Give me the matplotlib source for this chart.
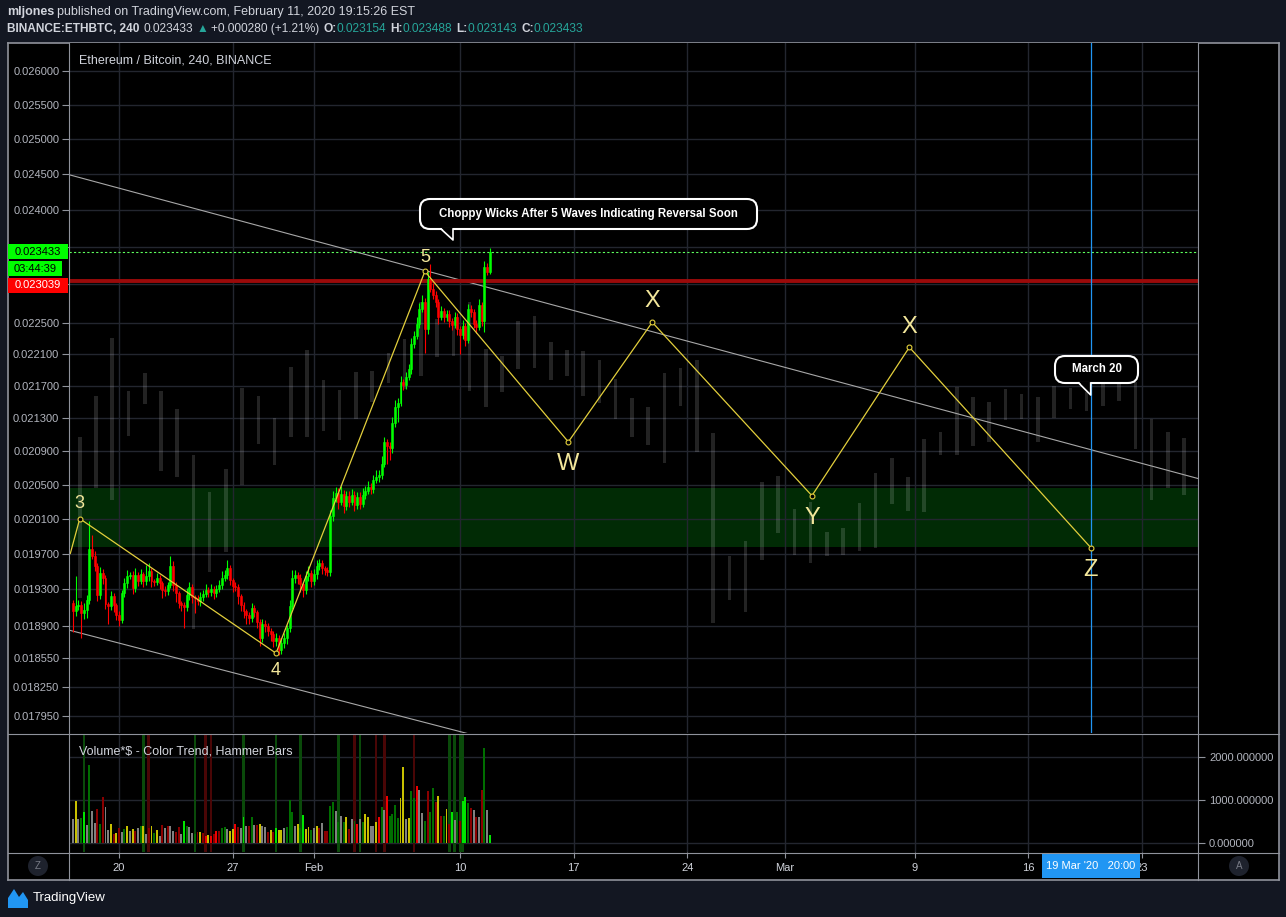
import numpy as np
import pandas as pd
import matplotlib
matplotlib.use("Agg")
import matplotlib.pyplot as plt
import matplotlib.dates as mdates
from matplotlib.patches import Rectangle, FancyBboxPatch, Polygon, Circle
from matplotlib.lines import Line2D
from matplotlib.transforms import IdentityTransform
from matplotlib.ticker import FixedLocator, FixedFormatter, NullLocator

plt.rcParams['font.family'] = ['Liberation Sans', 'DejaVu Sans']

# ETH/BTC 4h candles, prices in 1e-6 BTC (open = previous close)
first_open = 19147
closes = [19059, 19114, 19125, 19038, 19070, 19180, 19760, 19670, 19557, 19235,
          19479, 19423, 19136, 19114, 19224, 19125, 19016, 18961, 19257, 19368,
          19445, 19457, 19312, 19457, 19390, 19468, 19390, 19445, 19501, 19390,
          19379, 19423, 19368, 19290, 19279, 19345, 19557, 19345, 19257, 19147,
          19125, 19103, 19235, 19323, 19213, 19202, 19169, 19213, 19246, 19290,
          19268, 19301, 19257, 19301, 19345, 19423, 19457, 19535, 19401, 19334,
          19323, 19224, 19125, 19059, 19016, 18983, 19092,
          19048, 18940, 18767, 18918, 18897, 18843, 18810, 18735, 18767, 18639,
          18714, 18767, 18875, 19114, 19423, 19457, 19423, 19357, 19290, 19445,
          19479, 19390, 19468, 19557, 19591, 19535, 19513, 19490,
          20137, 20346, 20404, 20299, 20392, 20253, 20369, 20299, 20381, 20264,
          20357, 20276, 20381, 20428, 20474, 20451, 20556, 20591, 20615, 20745,
          21009, 20961, 20937, 21239, 21435, 21484, 21743, 21706, 21806, 21906,
          22221, 22324, 22478, 22672, 22763, 22414, 23065,
          22933, 22854, 22763, 22568, 22646, 22568, 22607, 22516, 22465, 22568,
          22414, 22337, 22452, 22273, 22672, 22633, 22478, 22440, 22724, 22516,
          23225, 23158, 23433]
upper_wick = [40, 340, 60, 50, 80, 60, 320, 150, 60, 40, 70, 50, 40, 30, 60, 40, 30, 50, 40, 60,
              70, 40, 50, 80, 40, 60, 30, 130, 90, 40, 30, 60, 40, 30, 50, 40, 120, 60, 40, 30,
              30, 40, 80, 60, 40, 30, 40, 60, 50, 70, 40, 60, 40, 50, 60, 80, 60, 100, 40, 30,
              50, 40, 30, 40, 30, 40, 60,
              40, 30, 40, 60, 50, 40, 30, 40, 60, 40, 50, 60, 40, 70, 90, 60, 40, 50, 30, 60,
              80, 40, 60, 70, 50, 40, 30, 40,
              60, 80, 70, 50, 90, 40, 60, 50, 70, 40, 60, 50, 80, 60, 70, 40, 60, 80, 60, 90,
              60, 40, 50, 70, 90, 60, 80, 40, 70, 60, 80, 70, 90, 80, 100, 60, 105,
              200, 80, 60, 50, 70, 40, 60, 50, 40, 70, 50, 40, 80, 40, 70, 60, 40, 50, 80, 40,
              90, 60, 55]
lower_wick = [220, 50, 40, 270, 60, 80, 40, 30, 50, 60, 40, 60, 50, 190, 40, 70, 50, 60, 30, 40,
              50, 30, 60, 40, 50, 30, 60, 40, 50, 60, 40, 30, 60, 80, 50, 40, 30, 60, 90, 50,
              60, 230, 40, 50, 60, 165, 40, 50, 40, 30, 50, 40, 60, 40, 30, 40, 30, 40, 50, 60,
              40, 80, 60, 70, 90, 60, 40,
              50, 60, 80, 40, 60, 50, 70, 60, 50, 55, 40, 50, 60, 40, 30, 50, 60, 90, 70, 40,
              50, 60, 40, 50, 40, 60, 50, 40,
              40, 60, 50, 80, 40, 90, 50, 60, 40, 70, 50, 60, 40, 50, 40, 60, 50, 40, 60, 50,
              40, 215, 150, 60, 50, 180, 40, 60, 50, 40, 60, 50, 40, 50, 40, 310, 60,
              40, 50, 60, 90, 40, 60, 50, 70, 60, 40, 80, 240, 50, 70, 40, 60, 50, 80, 40, 60,
              135, 40, 15]
last_candle = '2020-02-11 20:00'

# Volume*$ indicator
volumes = [558, 984, 558, 574, 721, 419, 1814, 752, 465, 791,
           442, 1062, 829, 302, 442, 209, 233, 341, 248, 326,
           388, 271, 326, 287, 341, 388, 403, 209, 341, 403,
           233, 302, 155, 419, 349, 388, 403, 271, 248, 364,
           209, 519, 403, 380, 233, 209, 264, 248, 233, 171,
           186, 171, 209, 287, 279, 349, 364, 326, 287, 326,
           442, 364, 341, 605, 388, 388, 597, 419, 426, 450,
           388, 364, 264, 310, 264, 341, 295, 310, 357, 364,
           1000, 713, 388, 442, 349, 651, 326, 364, 302, 341,
           388, 357, 465, 287, 279, 853, 946, 752, 496, 620,
           481, 597, 326, 558, 519, 442, 558, 481, 674, 597,
           403, 403, 496, 597, 829, 775, 1085, 636, 674, 884,
           574, 1039, 1760, 558, 574, 1217, 1047, 1318, 1225, 698,
           519, 1217, 729, 1271, 961, 1101, 636, 620, 791, 442,
           729, 543, 729, 519, 984, 1062, 930, 806, 775, 597,
           597, 1240, 2202, 775, 186]
vol_codes = ("gygdGgdggr" "drggyryrgd" "ygyrgdygry" "dygrgrggrr" "gGdggdryrR"
             "yRrRrddgyy" "RrgGgrdgry" "ggryrGyygd" "ddgydGyydg" "yrgrrddgdg"
             "dyrgdRgdyy" "ggyRdgRddd" "dyygyddRgg" "drddryrdyr" "GgdrGGdrgr" "grdgG")
hammer_up = [4, 26, 45, 63, 75, 84, 98, 106, 139, 141, 143, 144]
hammer_down = [28, 49, 51, 104, 112, 115, 126]

# faint daily bars in the background (1e-6 BTC)
ghost_start = '2020-01-17 14:00'
ghost_high = [21069, 21570, 22299, 21631, 21856, 21631, 21410, 20853, 20416, 20686,
              21668, 21570, 21299, 21931, 22145, 21769, 21644, 21869, 21881, 22108,
              22286, 22763, 22542, 22452, 22763, 22158, 22070, 22516, 22581, 22248,
              22145, 22133, 22020, 21781, 21545, 21435, 21856, 21919, 22020, 21118,
              19670, 19850, 20533, 20603, 20218, 20299, 19953, 19999, 20287, 20639,
              20817, 20591, 21045, 21130, 21681, 21557, 21496, 21656, 21594, 21557,
              21693, 21668, 21619, 21718, 21718, 21743, 21287, 21130, 21057]
ghost_low = [19202, 20463, 20322, 21081, 21471, 20662, 20591, 18864, 19490, 19726,
             20498, 20985, 20734, 21069, 21069, 21142, 21033, 21287, 21496, 21731,
             21656, 21819, 22057, 22070, 21631, 21435, 21619, 21906, 21919, 21769,
             21819, 21570, 21484, 21287, 21069, 20973, 20757, 21447, 20889, 18929,
             19180, 19048, 19625, 19941, 19681, 19591, 19670, 19681, 19737, 19771,
             20276, 20195, 20183, 20853, 20853, 20961, 21009, 21275, 21287, 21009,
             21299, 21410, 21385, 21447, 21508, 20925, 20322, 20463, 20380]

# elliott wave count
wave_times = ['2020-01-17 00:00', '2020-01-17 14:00', '2020-01-29 16:00', '2020-02-07 20:00',
              '2020-02-16 16:00', '2020-02-21 20:00', '2020-03-02 16:00', '2020-03-08 16:00',
              '2020-03-19 20:00']
wave_prices = [0.019703, 0.020102, 0.018606, 0.023171, 0.021009, 0.022504, 0.020369, 0.022183, 0.019771]
wave_labels = ['', '3', '4', '5', 'W', 'X', 'Y', 'X', 'Z']
wave_label_offset = [0, 15, -17, 14, -22, 21, -22, 20, -22]

upper_trend_times = ['2020-01-16 22:00', '2020-03-26 12:00']
upper_trend_prices = [0.024496, 0.020568]
lower_trend_times = ['2020-01-17 00:00', '2020-02-12 12:00']
lower_trend_prices = [0.018851, 0.017679]

zone = (0.019780, 0.020460)
resistance = 0.023039
last_price = 0.023433
march20 = '2020-03-19 20:00'

price_ticks = [0.026, 0.0255, 0.025, 0.0245, 0.024, 0.0235, 0.023, 0.0225, 0.0221, 0.0217,
               0.0213, 0.0209, 0.0205, 0.0201, 0.0197, 0.0193, 0.0189, 0.01855, 0.01825, 0.01795]
date_ticks = ['2020-01-20', '2020-01-27', '2020-02-01', '2020-02-10', '2020-02-17',
              '2020-02-24', '2020-03-01', '2020-03-09', '2020-03-16', '2020-03-23']
date_labels = ['20', '27', 'Feb', '10', '17', '24', 'Mar', '9', '16', '23']
vol_ticks = [0, 1000, 2000]

# ---------------------------------------------------------------
W, H = 1286, 917
BG = '#131722'
LINE = '#8f929b'
GRID = '#23262f'
TXT = '#d1d4dc'
AXT = '#b2b5be'
px = IdentityTransform()


def fbox(x0, y0, x1, y1):
    return [x0 / W, 1 - y1 / H, (x1 - x0) / W, (y1 - y0) / H]


fig = plt.figure(figsize=(W / 100, H / 100), dpi=100, facecolor=BG)

frame = fig.add_axes(fbox(8, 43, 1279, 880))
frame.set_facecolor('black')
frame.set_xticks([])
frame.set_yticks([])
for s in frame.spines.values():
    s.set_color(LINE)
    s.set_linewidth(1.2)

ax = fig.add_axes(fbox(69, 43, 1198, 733))
axv = fig.add_axes(fbox(69, 735, 1198, 852))

t20 = mdates.date2num(pd.Timestamp('2020-01-20'))
xlim = (t20 - 3.08, t20 + 66.44)

t_c = mdates.date2num(pd.date_range(end=last_candle, periods=len(closes), freq='4h'))
c = np.array(closes) / 1e6
o = np.r_[first_open, closes[:-1]] / 1e6
hi = np.maximum(o, c) + np.array(upper_wick) / 1e6
lo = np.minimum(o, c) - np.array(lower_wick) / 1e6
ccol = np.where(c >= o, '#00ff00', '#ff0000')

# ---- price pane ----
ax.set_facecolor('black')
ax.set_yscale('log')
ax.set_xlim(*xlim)
ax.set_ylim(0.017772, 0.026422)
ax.axhspan(zone[0], zone[1], color='#012b05', lw=0, zorder=0.3)

t_g = mdates.date2num(pd.date_range(ghost_start, periods=len(ghost_high), freq='D'))
gh = np.array(ghost_high) / 1e6
gl = np.array(ghost_low) / 1e6
ax.bar(t_g, gh - gl, bottom=gl, width=0.22, color='white', alpha=0.14, lw=0, zorder=1)

ax.plot(mdates.date2num(pd.to_datetime(upper_trend_times)), upper_trend_prices,
        color='#a8a8a8', lw=0.8, zorder=2)
ax.plot(mdates.date2num(pd.to_datetime(lower_trend_times)), lower_trend_prices,
        color='#a8a8a8', lw=0.8, zorder=2)
ax.axhline(resistance, color='#9a0a0a', lw=2.8, zorder=2)
ax.axhline(last_price, color='#5dff5d', lw=0.8, ls=(0, (2, 2)), zorder=2)

ax.vlines(t_c, lo, hi, colors=ccol, lw=0.8, zorder=3)
ax.bar(t_c, np.abs(c - o), bottom=np.minimum(o, c), width=0.12, color=ccol,
       edgecolor=ccol, lw=0.4, zorder=3.1)

t_w = mdates.date2num(pd.to_datetime(wave_times))
ax.plot(t_w, wave_prices, color='#e3cf3c', lw=0.9, zorder=5)
ax.plot(t_w[1:], wave_prices[1:], ls='none', marker='o', ms=3.5, mfc='black',
        mec='#e3cf3c', mew=0.8, zorder=6)
for t, p, lab, off in zip(t_w, wave_prices, wave_labels, wave_label_offset):
    if lab:
        ax.annotate(lab, (t, p), xytext=(0, off), textcoords='offset pixels',
                    ha='center', va='center', color='#f3e79b',
                    fontsize=13 if lab.isdigit() else 17, zorder=7)

t_m = mdates.date2num(pd.Timestamp(march20))
ax.axvline(t_m, color='#2196f3', lw=0.9, zorder=4)

ax.yaxis.set_major_locator(FixedLocator(price_ticks))
ax.yaxis.set_major_formatter(FixedFormatter(
    ['' if p in (0.0235, 0.023) else f'{p:.6f}' for p in price_ticks]))
ax.yaxis.set_minor_locator(NullLocator())
ax.tick_params(axis='y', colors=LINE, labelcolor=AXT, labelsize=8, length=5, width=0.8, pad=2)
date_nums = mdates.date2num(pd.to_datetime(date_ticks))
ax.set_xticks(date_nums)
ax.tick_params(axis='x', length=0, labelbottom=False)
ax.grid(True, color=GRID, lw=1)
ax.set_axisbelow(True)
for s in ax.spines.values():
    s.set_visible(False)
ax.text(10 / 1129, 1 - 17 / 690, 'Ethereum / Bitcoin, 240, BINANCE', transform=ax.transAxes,
        color=TXT, fontsize=9, va='center', ha='left')

# ---- volume pane ----
axv.set_facecolor('black')
axv.set_xlim(*xlim)
axv.set_ylim(-209, 2512)
vcmap = {'g': '#808080', 'y': '#c8c000', 'G': '#00e600', 'R': '#ee0000',
         'd': '#006e00', 'r': '#8a0000'}
for i in hammer_up:
    axv.axvspan(t_c[i] - 0.08, t_c[i] + 0.08, color='#0a4a0a', lw=0, zorder=1)
for i in hammer_down:
    axv.axvspan(t_c[i] - 0.08, t_c[i] + 0.08, color='#4a0606', lw=0, zorder=1)
axv.bar(t_c, volumes, width=0.12, color=[vcmap[k] for k in vol_codes], lw=0, zorder=3)
axv.yaxis.tick_right()
axv.set_yticks(vol_ticks)
axv.set_yticklabels([f'{v:.6f}' for v in vol_ticks])
axv.tick_params(axis='y', colors=LINE, labelcolor=AXT, labelsize=8, length=5, width=0.8, pad=3)
axv.set_xticks(date_nums)
axv.set_xticklabels(date_labels)
axv.tick_params(axis='x', colors=LINE, labelcolor=TXT, labelsize=8, length=4, width=0.8, pad=4)
axv.grid(True, color=GRID, lw=1)
axv.set_axisbelow(True)
for s in axv.spines.values():
    s.set_visible(False)
axv.text(10 / 1129, 1 - 17 / 117, 'Volume*$ - Color Trend, Hammer Bars', transform=axv.transAxes,
         color=TXT, fontsize=9, va='center', ha='left')

# ---- panel separators ----
for x0, y0, x1, y1 in [(8, 734, 1279, 734), (8, 852.5, 1279, 852.5),
                       (68.5, 43, 68.5, 880), (1198, 43, 1198, 880)]:
    fig.add_artist(Line2D([x0, x1], [H - y0, H - y1], transform=px, color=LINE, lw=0.8))

# ---- price labels on the axis ----
y_last = H - ax.transData.transform((xlim[0], last_price))[1]
y_res = H - ax.transData.transform((xlim[0], resistance))[1]
for x0, x1, yc, s, fc, tc in [(8, 68, y_last, f'{last_price:.6f}', '#00ff00', 'black'),
                              (8, 62, y_last + 17, '03:44:39', '#00ff00', 'black'),
                              (8, 68, y_res + 4, f'{resistance:.6f}', '#ff0000', 'white')]:
    fig.add_artist(Rectangle((x0, H - yc - 7.5), x1 - x0, 15, transform=px, fc=fc, lw=0))
    fig.text((x0 + x1) / 2 / W, 1 - yc / H, s, color=tc, fontsize=8, ha='center', va='center')

# ---- callouts ----
def callout(x0, y0, x1, y1, tip, text):
    fig.add_artist(FancyBboxPatch((x0, H - y1), x1 - x0, y1 - y0,
                                  boxstyle='round,pad=0,rounding_size=10',
                                  transform=px, fc='black', ec='white', lw=1.5, zorder=8))
    tx, ty = tip
    fig.add_artist(Polygon([(tx - 12, H - y1 + 1.5), (tx, H - ty), (tx, H - y1 + 1.5)],
                           closed=True, transform=px, fc='black', lw=0, zorder=8.5))
    fig.add_artist(Line2D([tx - 12, tx, tx], [H - y1, H - ty, H - y1], transform=px,
                          color='white', lw=1.2, zorder=8.6))
    fig.text((x0 + x1) / 2 / W, 1 - (y0 + y1) / 2 / H, text, color='white', fontsize=8.3,
             fontweight='bold', ha='center', va='center', zorder=9)


x_m = ax.transData.transform((t_m, last_price))[0]
callout(420, 199, 757, 229, (453, 240), 'Choppy Wicks After 5 Waves Indicating Reversal Soon')
callout(1055, 356, 1138, 383, (x_m, 395), 'March 20')

# ---- time axis extras ----
fig.add_artist(Rectangle((x_m - 49, H - 878), 98, 24, transform=px, fc='#2196f3', lw=0, zorder=5))
fig.text(x_m / W, 1 - 866 / H, "19 Mar '20   20:00", color='white', fontsize=8,
         ha='center', va='center', zorder=6)
for cx, letter in [(38, 'Z'), (1239, 'A')]:
    fig.add_artist(Circle((cx, H - 866), 10, transform=px, fc='#1e222d', lw=0))
    fig.text(cx / W, 1 - 866 / H, letter, color='#787b86', fontsize=7, ha='center', va='center')

# ---- header (pieces laid out one after another) ----
TEAL = '#26a69a'
renderer = fig.canvas.get_renderer()


def header_line(y, pieces, size):
    x = 7
    for s, col, bold, gap in pieces:
        t = fig.text(x / W, 1 - y / H, s, color=col, fontsize=size,
                     fontweight='bold' if bold else 'normal', va='center')
        x = t.get_window_extent(renderer).x1 + gap


header_line(12, [('mljones', TXT, True, 3),
                 ('published on TradingView.com, February 11, 2020 19:15:26 EST', TXT, False, 0)], 9)
header_line(29, [('BINANCE:ETHBTC, 240', TXT, True, 4), ('0.023433', TXT, False, 3),
                 ('\u25b2', TEAL, False, 3), ('+0.000280 (+1.21%)', TXT, False, 4),
                 ('O:', TXT, True, 0), ('0.023154', TEAL, False, 4),
                 ('H:', TXT, True, 0), ('0.023488', TEAL, False, 4),
                 ('L:', TXT, True, 0), ('0.023143', TEAL, False, 4),
                 ('C:', TXT, True, 0), ('0.023433', TEAL, False, 0)], 8.6)

# ---- footer logo ----
fig.add_artist(Polygon([(8, H - 908), (8, H - 898), (14, H - 889), (19, H - 897), (23, H - 892),
                        (28, H - 900), (28, H - 908)], closed=True, transform=px,
                       fc='#2196f3', lw=0))
fig.text(33 / W, 1 - 898 / H, 'TradingView', color='white', fontsize=9.5, va='center')

fig.savefig('out.png', dpi=100, facecolor=fig.get_facecolor())
